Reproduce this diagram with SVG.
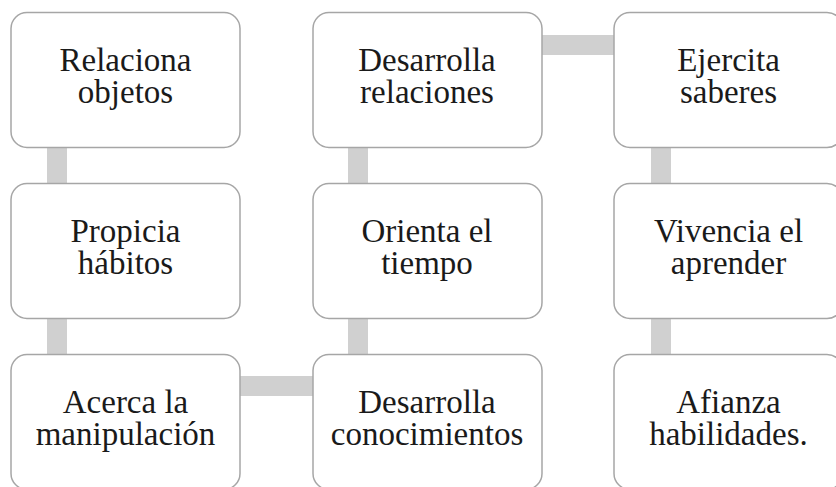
<svg xmlns="http://www.w3.org/2000/svg" width="836" height="487" viewBox="0 0 836 487">
<style>
.box{fill:#ffffff;stroke:#a6a6a6;stroke-width:1.5}
.bar{fill:#d0d0d0}
text{font-family:"Liberation Serif","Times New Roman",serif;font-size:33px;fill:#1a1a1a;text-anchor:middle}
</style>
<rect width="836" height="487" fill="#ffffff"/>
<g id="connectors">
<rect class="bar" x="47" y="147" width="20" height="37"/>
<rect class="bar" x="47" y="318" width="20" height="37"/>
<rect class="bar" x="239" y="376" width="75" height="20"/>
<rect class="bar" x="348" y="318" width="20" height="37"/>
<rect class="bar" x="348" y="147" width="20" height="37"/>
<rect class="bar" x="540" y="35" width="75" height="20"/>
<rect class="bar" x="651" y="147" width="20" height="37"/>
<rect class="bar" x="651" y="318" width="20" height="37"/>
</g>
<g id="n1"><rect class="box" x="11" y="12.5" width="229" height="135" rx="16"/><text x="125.5" y="71">Relaciona</text><text x="125.5" y="103">objetos</text></g>
<g id="n2"><rect class="box" x="11" y="183.5" width="229" height="135" rx="16"/><text x="125.5" y="242">Propicia</text><text x="125.5" y="274">hábitos</text></g>
<g id="n3"><rect class="box" x="11" y="354.5" width="229" height="135" rx="16"/><text x="125.5" y="413">Acerca la</text><text x="125.5" y="445">manipulación</text></g>
<g id="n4"><rect class="box" x="313" y="354.5" width="229" height="135" rx="16"/><text x="427" y="413">Desarrolla</text><text x="427" y="445">conocimientos</text></g>
<g id="n5"><rect class="box" x="313" y="183.5" width="229" height="135" rx="16"/><text x="427" y="242">Orienta el</text><text x="427" y="274">tiempo</text></g>
<g id="n6"><rect class="box" x="313" y="12.5" width="229" height="135" rx="16"/><text x="427" y="71">Desarrolla</text><text x="427" y="103">relaciones</text></g>
<g id="n7"><rect class="box" x="614" y="12.5" width="229" height="135" rx="16"/><text x="728.5" y="71">Ejercita</text><text x="728.5" y="103">saberes</text></g>
<g id="n8"><rect class="box" x="614" y="183.5" width="229" height="135" rx="16"/><text x="728.5" y="242">Vivencia el</text><text x="728.5" y="274">aprender</text></g>
<g id="n9"><rect class="box" x="614" y="354.5" width="229" height="135" rx="16"/><text x="728.5" y="413">Afianza</text><text x="728.5" y="445">habilidades.</text></g>
</svg>
